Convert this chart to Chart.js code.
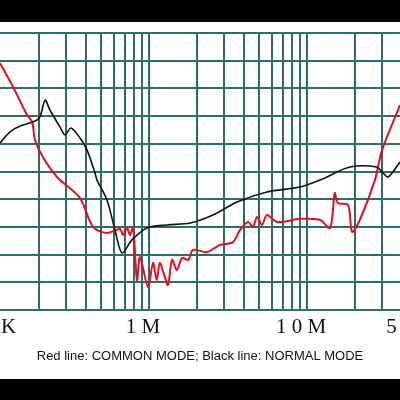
<!DOCTYPE html>
<html><head><meta charset="utf-8">
<script src="https://cdn.jsdelivr.net/npm/chart.js@4/dist/chart.umd.min.js"></script>
<style>html,body{margin:0;padding:0;background:#000}#w{width:400px;height:400px}</style>
</head><body><div id="w"><canvas id="c" width="400" height="400"></canvas></div>
<script>
// frequencies in MHz
const blackFreq = [0.114,0.132,0.153,0.190,0.204,0.220,0.236,0.273,0.294,0.321,0.366,0.405,0.455,0.469,0.542,0.609,0.675,0.780,0.971,1.30,1.82,2.54,3.61,5.58,9.03,12.1,18.7,27.7,30.3,32.6,38.8];
const blackVals = [6.03,6.43,6.64,6.82,6.97,7.58,7.22,6.61,6.32,6.57,6.21,5.78,4.95,4.69,3.97,2.89,2.06,2.53,2.96,3.07,3.14,3.43,3.90,4.26,4.44,4.69,5.16,5.16,4.95,4.80,5.34];
const redFreq = [0.114,0.138,0.169,0.182,0.190,0.213,0.262,0.366,0.442,0.542,0.655,0.684,0.726,0.758,0.792,0.840,0.877,0.986,1.06,1.12,1.17,1.26,1.32,1.40,1.50,1.62,1.77,1.90,2.33,2.81,3.40,3.77,4.23,4.55,4.83,5.19,5.58,6.46,9.03,12.1,14.0,15.0,15.7,18.2,19.3,21.6,26.9,29.9,38.8];
const redVals = [8.92,8.05,7.04,6.79,6.14,5.52,4.80,4.04,3.00,2.78,2.92,2.71,2.96,2.71,3.00,1.08,1.91,0.83,1.70,1.08,1.70,1.19,0.90,1.81,1.44,1.88,1.81,2.17,2.09,2.35,2.45,2.89,3.18,3.00,3.36,3.07,3.43,3.18,3.29,3.25,2.96,4.22,3.86,3.79,2.82,3.25,4.69,5.78,7.40];
const gridFreqs = [0.2,0.3,0.4,0.5,0.6,0.7,0.8,0.9,1,2,3,4,5,6,7,8,9,10,20,30,40];
const tickLabels = [[0.1,'1 0 0 K'],[1,'1 M'],[10,'1 0 M'],[50,'5 0 M']];
const caption = 'Red line: COMMON MODE; Black line: NORMAL MODE';

const pts = (f,v)=>f.map((x,i)=>({x:x,y:v[i]}));
const deco = {
  id:'deco',
  beforeDraw(ch){const c=ch.ctx;c.save();c.fillStyle='#fff';c.fillRect(0,0,400,400);c.fillStyle='#000';c.fillRect(0,0,400,22);c.fillRect(0,379,400,21);c.restore();},
  afterDraw(ch){const c=ch.ctx,xs=ch.scales.x;c.save();c.fillStyle='#111';
    c.font='21px "Liberation Serif"';c.textAlign='center';c.textBaseline='middle';
    tickLabels.forEach(([v,t])=>{c.fillText(t,xs.getPixelForValue(v)-6,327);});
    c.font='13px "Liberation Sans"';c.fillText(caption,200,356);c.restore();}
};
new Chart(document.getElementById('c'),{
  type:'line',
  data:{datasets:[
    {data:pts(blackFreq,blackVals),borderColor:'#111',borderWidth:1.6,pointRadius:0,tension:0.3},
    {data:pts(redFreq,redVals),borderColor:'#e3101c',borderWidth:2,pointRadius:0,tension:0.3}
  ]},
  options:{responsive:false,animation:false,events:[],
    layout:{padding:{top:33,bottom:90,left:0,right:0}},
    plugins:{legend:{display:false},tooltip:{enabled:false}},
    scales:{
      x:{type:'logarithmic',min:0.114,max:38.8,
        afterBuildTicks(s){s.ticks=gridFreqs.map(v=>({value:v}));},
        ticks:{display:false},grid:{color:'#2a6e69',lineWidth:2,drawTicks:false},border:{display:false}},
      y:{min:0,max:10,ticks:{display:false,stepSize:1},grid:{color:'#2a6e69',lineWidth:2,drawTicks:false},border:{display:false}}
    }},
  plugins:[deco]
});
</script></body></html>
